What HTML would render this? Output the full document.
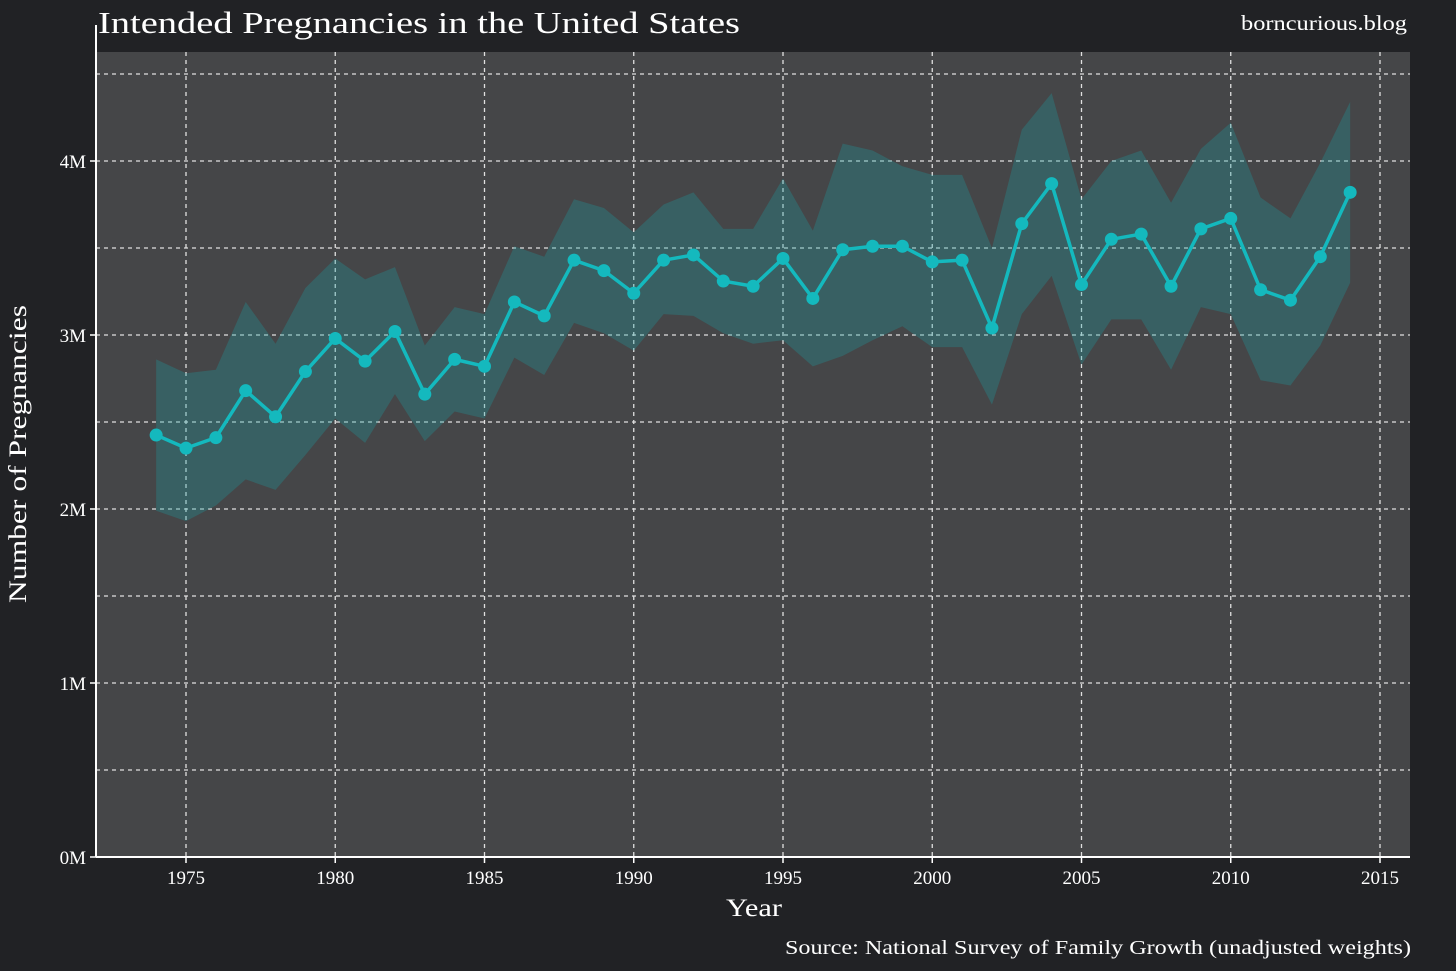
<!DOCTYPE html>
<html><head><meta charset="utf-8"><style>
html,body{margin:0;padding:0;background:#212225;}
svg{display:block;font-family:"Liberation Serif",serif;}
</style></head><body>
<svg id="chart" width="1456" height="971" viewBox="0 0 1456 971" xmlns="http://www.w3.org/2000/svg">
<rect x="0" y="0" width="1456" height="971" fill="#212225"/>
<rect x="96" y="52" width="1314" height="805" fill="#454648"/>
<g id="grid"></g>
<g id="band"></g>
<g id="series"></g>
<line x1="96" y1="25" x2="96" y2="857" stroke="#ffffff" stroke-width="2"/>
<line x1="96" y1="857" x2="1410" y2="857" stroke="#ffffff" stroke-width="2"/>
<g id="xticks"></g>
<g id="yticks"></g>
<text x="98" y="33" fill="#ffffff" font-size="31" textLength="642" lengthAdjust="spacingAndGlyphs">Intended Pregnancies in the United States</text>
<text x="1241" y="30" fill="#ffffff" font-size="21" textLength="166" lengthAdjust="spacingAndGlyphs">borncurious.blog</text>
<text x="726" y="916" fill="#ffffff" font-size="25" textLength="56" lengthAdjust="spacingAndGlyphs">Year</text>
<text transform="translate(26,603) rotate(-90)" fill="#ffffff" font-size="25" textLength="298" lengthAdjust="spacingAndGlyphs">Number of Pregnancies</text>
<text x="785" y="954" fill="#ffffff" font-size="20" textLength="626" lengthAdjust="spacingAndGlyphs">Source: National Survey of Family Growth (unadjusted weights)</text>
</svg>
<script>
const years=[1974,1975,1976,1977,1978,1979,1980,1981,1982,1983,1984,1985,1986,1987,1988,1989,1990,1991,1992,1993,1994,1995,1996,1997,1998,1999,2000,2001,2002,2003,2004,2005,2006,2007,2008,2009,2010,2011,2012,2013,2014];
const values=[2.425,2.35,2.41,2.68,2.53,2.79,2.98,2.85,3.02,2.66,2.86,2.82,3.19,3.11,3.43,3.37,3.24,3.43,3.46,3.31,3.28,3.44,3.21,3.49,3.51,3.51,3.42,3.43,3.04,3.64,3.87,3.29,3.55,3.58,3.28,3.61,3.67,3.26,3.20,3.45,3.82];
const upper=[2.86,2.78,2.80,3.19,2.95,3.27,3.44,3.32,3.39,2.94,3.16,3.12,3.51,3.45,3.78,3.73,3.59,3.75,3.82,3.61,3.61,3.90,3.60,4.10,4.06,3.97,3.92,3.92,3.50,4.18,4.39,3.78,4.00,4.06,3.76,4.07,4.22,3.79,3.67,3.99,4.34];
const lower=[1.99,1.93,2.02,2.17,2.11,2.31,2.52,2.38,2.66,2.39,2.56,2.52,2.87,2.77,3.07,3.01,2.91,3.12,3.11,3.01,2.95,2.97,2.82,2.88,2.97,3.05,2.93,2.93,2.60,3.12,3.34,2.83,3.09,3.09,2.80,3.16,3.12,2.74,2.71,2.94,3.30];
const xTicks=[1975,1980,1985,1990,1995,2000,2005,2010,2015];
const yTicks=[0,1,2,3,4];
const yTickLabels=["0M","1M","2M","3M","4M"];
const yGrid=[0.5,1,1.5,2,2.5,3,3.5,4,4.5];
const NS="http://www.w3.org/2000/svg";
function xs(y){return 186+(y-1975)*(1380-186)/40;}
function ys(v){return 857-v*174;}
function mk(tag,attrs,parent){const e=document.createElementNS(NS,tag);for(const k in attrs)e.setAttribute(k,attrs[k]);parent.appendChild(e);return e;}
const grid=document.getElementById('grid');
xTicks.forEach(t=>{const l=mk('line',{x1:xs(t),x2:xs(t),y1:52,y2:857,stroke:'#e0e0e0','stroke-width':1.3,'stroke-dasharray':'4,4'},grid);

});
yGrid.forEach(v=>{const l=mk('line',{x1:96,x2:1410,y1:ys(v),y2:ys(v),stroke:'#e0e0e0','stroke-width':1.3,'stroke-dasharray':'4,4'},grid);

});
const band=document.getElementById('band');
let d=years.map((y,i)=>(i?'L':'M')+xs(y)+','+ys(upper[i])).join('');
for(let i=years.length-1;i>=0;i--)d+='L'+xs(years[i])+','+ys(lower[i]);
const bp=mk('path',{d:d+'Z',fill:'#1a9fa3','fill-opacity':0.3},band);


const s=document.getElementById('series');
const lp=mk('path',{d:years.map((y,i)=>(i?'L':'M')+xs(y)+','+ys(values[i])).join(''),fill:'none',stroke:'#14b9be','stroke-width':3.5,'stroke-linejoin':'round'},s);


years.forEach((y,i)=>{const c=mk('circle',{cx:xs(y),cy:ys(values[i]),r:6.5,fill:'#14b9be'},s);

});
const xt=document.getElementById('xticks');
xTicks.forEach(t=>{mk('line',{x1:xs(t),x2:xs(t),y1:857,y2:863,stroke:'#fff','stroke-width':1.5},xt);
const tx=mk('text',{x:xs(t),y:884,fill:'#fff','font-size':19,'text-anchor':'middle'},xt);tx.textContent=t;

});
const yt=document.getElementById('yticks');
yTicks.forEach((v,i)=>{mk('line',{x1:90,x2:96,y1:ys(v),y2:ys(v),stroke:'#fff','stroke-width':1.5},yt);
const tx=mk('text',{x:86,y:ys(v)+7,fill:'#fff','font-size':19,'text-anchor':'end'},yt);tx.textContent=yTickLabels[i];

});
</script>
</body></html>
